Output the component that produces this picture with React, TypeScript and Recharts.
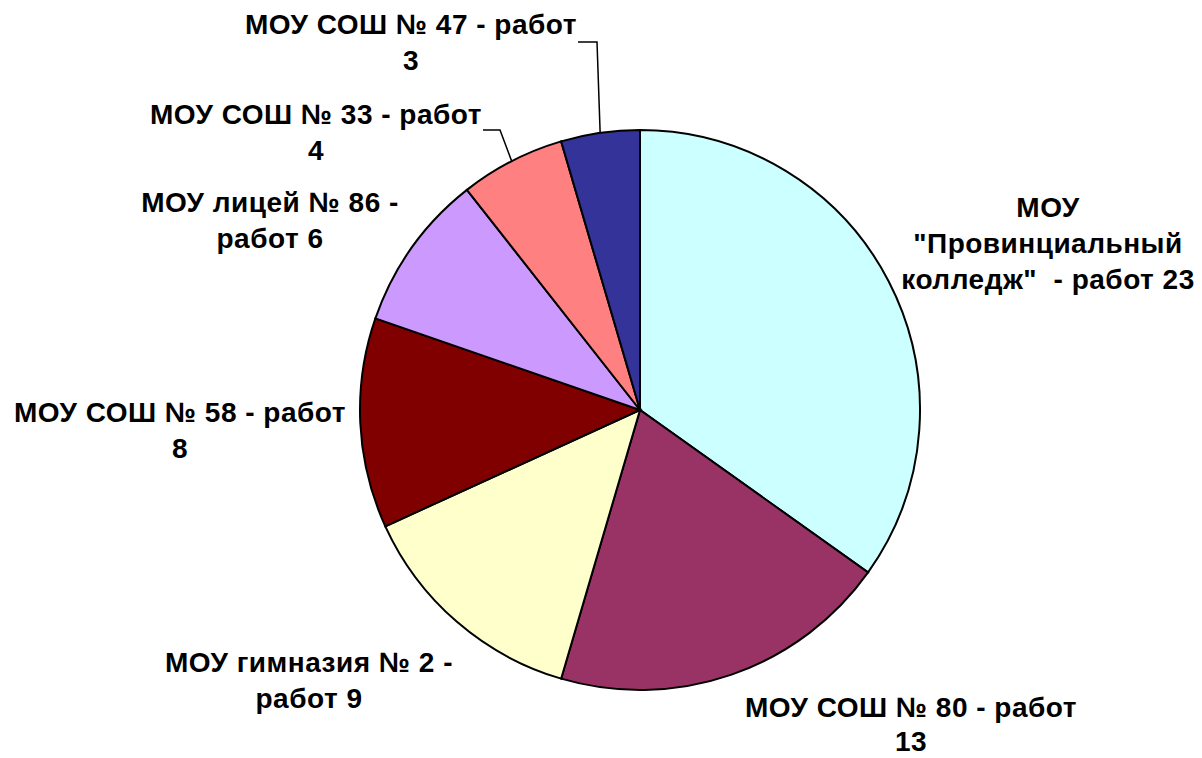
import React from "react";
import { PieChart, Pie, Cell } from "recharts";

// categories and values, clockwise from 12 o'clock
const schools = [
  'МОУ "Провинциальный колледж"',
  "МОУ СОШ № 80",
  "МОУ гимназия № 2",
  "МОУ СОШ № 58",
  "МОУ лицей № 86",
  "МОУ СОШ № 33",
  "МОУ СОШ № 47",
];
const works = [23, 13, 9, 8, 6, 4, 3];
const colors = ["#CCFFFF", "#993366", "#FFFFCC", "#800000", "#CC99FF", "#FF8080", "#333399"];

// label text lines as wrapped in the original
const labelLines = [
  ["МОУ", '"Провинциальный', 'колледж"  - работ 23'],
  ["МОУ СОШ № 80 - работ", "13"],
  ["МОУ гимназия № 2 -", "работ 9"],
  ["МОУ СОШ № 58 - работ", "8"],
  ["МОУ лицей № 86 -", "работ 6"],
  ["МОУ СОШ № 33 - работ", "4"],
  ["МОУ СОШ № 47 - работ", "3"],
];

const data = schools.map((name, i) => ({ name, value: works[i] }));

// label placement relative to the pie centre (text anchor = middle, first baseline)
const labelOffset = [
  { dx: 408, dy: -193, lh: 36 },
  { dx: 271, dy: 307, lh: 34 },
  { dx: -331, dy: 262, lh: 36 },
  { dx: -460, dy: 12, lh: 36 },
  { dx: -370, dy: -198, lh: 36 },
  { dx: -324, dy: -286, lh: 36 },
  { dx: -229, dy: -376, lh: 36 },
];
// leader lines for the two small slices: elbow and end, relative to centre
const leaders: Record<number, { ex: number; ey: number; tx: number; ty: number }> = {
  5: { ex: -140, ey: -280, tx: -157, ty: -280 },
  6: { ex: -43, ey: -368, tx: -62, ty: -368 },
};

const RAD = Math.PI / 180;

const renderLabel = (props: any) => {
  const { cx, cy, midAngle, outerRadius, index } = props;
  const off = labelOffset[index];
  const x = cx + off.dx;
  const y = cy + off.dy;
  const lead = leaders[index];
  let line = null;
  if (lead) {
    const sx = cx + outerRadius * Math.cos(-midAngle * RAD);
    const sy = cy + outerRadius * Math.sin(-midAngle * RAD);
    line = (
      <polyline
        points={`${sx},${sy} ${cx + lead.ex},${cy + lead.ey} ${cx + lead.tx},${cy + lead.ty}`}
        fill="none"
        stroke="#000"
        strokeWidth={1.5}
      />
    );
  }
  return (
    <g key={`lbl-${index}`}>
      {line}
      <text
        x={x}
        y={y}
        textAnchor="middle"
        fill="#000"
        fontFamily="'Liberation Sans', Arial, sans-serif"
        fontWeight="bold"
        fontSize={28}
        letterSpacing={0.5}
      >
        {labelLines[index].map((t, i) => (
          <tspan key={i} x={x} dy={i === 0 ? 0 : off.lh} style={{ whiteSpace: "pre" }}>
            {t}
          </tspan>
        ))}
      </text>
    </g>
  );
};

const App: React.FC = () => {
  return (
    <div style={{ position: "absolute", left: 0, top: 0, width: 1202, height: 758, background: "#fff" }}>
      {/* chart margin is 5px, so cx/cy are shifted to land the centre at 640,410 */}
      <PieChart width={1202} height={758}>
        <Pie
          data={data}
          dataKey="value"
          nameKey="name"
          cx={635}
          cy={405}
          outerRadius={280}
          startAngle={90}
          endAngle={-270}
          stroke="#000"
          strokeWidth={2}
          label={renderLabel}
          labelLine={false}
          isAnimationActive={false}
        >
          {data.map((d, i) => (
            <Cell key={d.name} fill={colors[i]} />
          ))}
        </Pie>
      </PieChart>
    </div>
  );
};

export default App;
